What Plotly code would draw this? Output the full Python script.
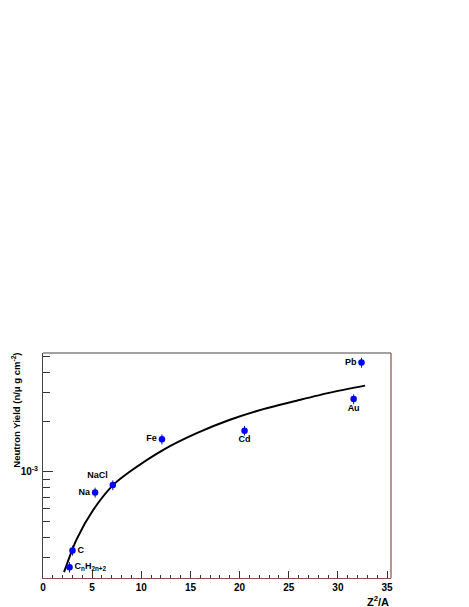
import plotly.graph_objects as go

# measured points
materials = ["Pb", "Au", "Cd", "Fe", "NaCl", "Na", "C", "C<sub>n</sub>H<sub>2n+2</sub>"]
z2_over_a = [32.4, 31.6, 20.5, 12.1, 7.1, 5.3, 3.0, 2.7]
neutron_yield = [4.58e-3, 2.75e-3, 1.77e-3, 1.57e-3, 8.27e-4, 7.46e-4, 3.32e-4, 2.63e-4]
yield_err = [3.2e-4, 1.9e-4, 1.2e-4, 1.1e-4, 5.6e-5, 5.2e-5, 2.3e-5, 1.9e-5]
label_pos = ["middle left", "bottom center", "bottom center", "middle left",
             "top left", "middle left", "middle right", "middle right"]

# fitted curve
fit_x = [2.14, 3.43, 5.12, 7.15, 8.85, 12.24, 15.64, 19.02, 22.41, 25.81, 29.2, 32.76]
fit_y = [2.45e-4, 3.89e-4, 5.86e-4, 8.30e-4, 1.0e-3, 1.355e-3, 1.71e-3, 2.06e-3,
         2.39e-3, 2.69e-3, 3.01e-3, 3.32e-3]

# axis ticks
x_ticks = [0, 5, 10, 15, 20, 25, 30, 35]
y_major = [1e-3]
y_major_text = ["10<sup>-3</sup>"]
y_minor = [3e-4, 4e-4, 5e-4, 6e-4, 7e-4, 8e-4, 9e-4, 2e-3, 3e-3, 4e-3, 5e-3]

FONT = "Liberation Sans, Arial, Helvetica, sans-serif"

fig = go.Figure()

fig.add_trace(  # fit curve
    go.Scatter(
        x=fit_x,
        y=fit_y,
        mode="lines",
        line=dict(color="black", width=2, shape="spline", smoothing=0.8),
        hoverinfo="skip",
    )
)

fig.add_trace(  # data points
    go.Scatter(
        x=z2_over_a,
        y=neutron_yield,
        mode="markers+text",
        marker=dict(color="blue", size=6.5),
        error_y=dict(type="data", array=yield_err, color="#1a1a60", thickness=1, width=0),
        text=materials,
        textposition=label_pos,
        textfont=dict(family=FONT, size=9, color="black", weight="bold"),
    )
)

frame_dark = "#444444"
frame_brown = "#8c4a4a"

# the page body has an 8px margin, so the figure is 8px smaller than the window
fig.update_layout(
    width=461,
    height=599,
    margin=dict(l=35, r=78, t=345, b=29, autoexpand=False),
    plot_bgcolor="white",
    paper_bgcolor="white",
    showlegend=False,
    font=dict(family=FONT, color="black"),
    shapes=[
        dict(type="line", xref="paper", yref="paper", x0=0, x1=1, y0=1, y1=1,
             line=dict(color=frame_dark, width=1)),
        dict(type="line", xref="paper", yref="paper", x0=1, x1=1, y0=0, y1=1,
             line=dict(color=frame_brown, width=1.2)),
    ],
    annotations=[
        dict(text="Neutron Yield (n/μ g cm<sup>-2</sup>)", textangle=-90,
             xref="paper", yref="paper", x=-0.078, y=1.012,
             xanchor="center", yanchor="top", showarrow=False,
             font=dict(family=FONT, size=9.5, weight="bold")),
        dict(text="Z<sup>2</sup>/A", xref="paper", yref="paper", x=1.0, y=-0.06,
             xanchor="right", yanchor="top", showarrow=False,
             font=dict(family=FONT, size=11, weight="bold")),
    ],
)

fig.update_xaxes(
    range=[0, 35.4],
    automargin=False,
    showgrid=False,
    zeroline=False,
    showline=True,
    linecolor=frame_brown,
    linewidth=1.2,
    tickmode="array",
    tickvals=x_ticks,
    ticks="inside",
    ticklen=7,
    tickcolor="#333333",
    tickfont=dict(family=FONT, size=10, weight="bold"),
    minor=dict(dtick=1, tick0=0, ticks="inside", ticklen=3, tickcolor="#333333"),
)

fig.update_yaxes(
    type="log",
    range=[-3.646, -2.281],
    automargin=False,
    showgrid=False,
    zeroline=False,
    showline=True,
    linecolor=frame_dark,
    linewidth=1,
    tickmode="array",
    tickvals=y_major,
    ticktext=y_major_text,
    ticks="inside",
    ticklen=10,
    tickcolor="#333333",
    ticklabelstandoff=2,
    tickfont=dict(family=FONT, size=10, weight="bold"),
    minor=dict(tickmode="array", tickvals=y_minor, ticks="inside", ticklen=7,
               tickcolor="#333333"),
)

fig.write_html("out.html")
